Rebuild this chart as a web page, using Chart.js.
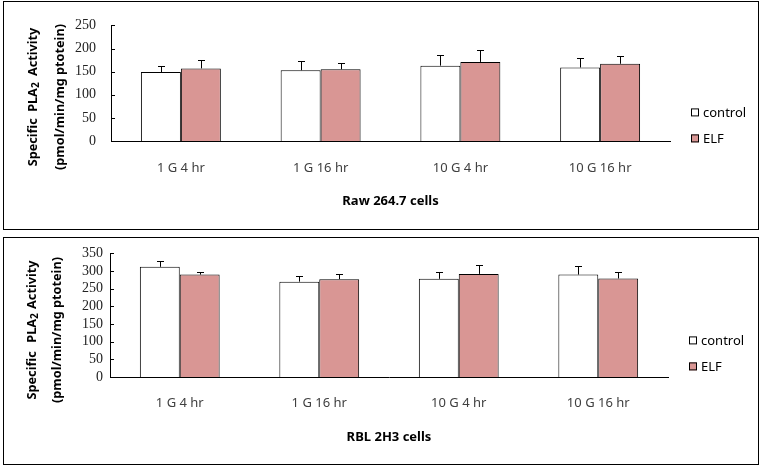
<!DOCTYPE html>
<html>
<head>
<meta charset="utf-8">
<script src="https://cdn.jsdelivr.net/npm/chart.js@4.4.1/dist/chart.umd.min.js"></script>
<style>
  body { margin: 0; background: #fff; }
  .panel { position: absolute; left: 3px; width: 754px; border: 1px solid #000; background: #fff; }
  #p1 { top: 1px; height: 227px; }
  #p2 { top: 237px; height: 226px; }
</style>
</head>
<body>
<div class="panel" id="p1"><canvas id="c1"></canvas></div>
<div class="panel" id="p2"><canvas id="c2"></canvas></div>
<script>
var groups = ['1 G 4 hr', '1 G 16 hr', '10 G 4 hr', '10 G 16 hr'];
var seriesNames = ['control', 'ELF'];

// Raw 264.7 cells
var rawControl = [149, 153, 163, 159];
var rawControlErr = [14, 19, 22, 20];
var rawElf = [157, 155, 171, 167];
var rawElfErr = [19, 14, 25, 17];
var rawTicks = [0, 50, 100, 150, 200, 250];

// RBL 2H3 cells
var rblControl = [312, 270, 278, 290];
var rblControlErr = [17, 15, 20, 23];
var rblElf = [290, 277, 292, 279];
var rblElfErr = [8, 15, 25, 19];
var rblTicks = [0, 50, 100, 150, 200, 250, 300, 350];

var SANS = '"Noto Sans", "Open Sans", sans-serif';

// upward error bars with a small cap
var errorBars = {
  id: 'errorBars',
  afterDatasetsDraw: function(chart){
    var ctx = chart.ctx, y = chart.scales.y;
    ctx.save();
    ctx.strokeStyle = '#000';
    ctx.lineWidth = 1;
    chart.data.datasets.forEach(function(ds, i){
      chart.getDatasetMeta(i).data.forEach(function(bar, j){
        var top = Math.round(y.getPixelForValue(ds.data[j] + ds.errors[j])) + 0.5;
        var x = Math.round(bar.x) + 0.5;
        ctx.beginPath();
        ctx.moveTo(x, bar.y);
        ctx.lineTo(x, top);
        ctx.moveTo(x - 3.5, top);
        ctx.lineTo(x + 3.5, top);
        ctx.stroke();
      });
    });
    ctx.restore();
  }
};

// inward tick marks, y title with subscript, legend on the right
var decorations = {
  id: 'decorations',
  afterDraw: function(chart, args, opts){
    var ctx = chart.ctx, y = chart.scales.y, area = chart.chartArea;
    ctx.save();
    ctx.strokeStyle = '#000';
    ctx.lineWidth = 1;
    y.ticks.forEach(function(t, i){
      var py = Math.round(y.getPixelForTick(i)) + 0.5;
      ctx.beginPath();
      ctx.moveTo(area.left, py);
      ctx.lineTo(area.left + 4, py);
      ctx.stroke();
    });

    // y title
    opts.titleLines.forEach(function(parts, k){
      ctx.save();
      ctx.translate(opts.titleX[k], opts.titleY);
      ctx.rotate(-Math.PI / 2);
      ctx.fillStyle = '#000';
      ctx.textBaseline = 'middle';
      ctx.textAlign = 'left';
      ctx.wordSpacing = opts.wordSpacing[k] + 'px';
      var total = 0;
      parts.forEach(function(p){
        ctx.font = p.sub ? 'bold 10px ' + SANS : 'bold 12.7px ' + SANS;
        total += ctx.measureText(p.t).width;
      });
      var cx = -total / 2;
      parts.forEach(function(p){
        ctx.font = p.sub ? 'bold 10px ' + SANS : 'bold 12.7px ' + SANS;
        ctx.fillText(p.t, cx, p.sub ? 3 : 0);
        cx += ctx.measureText(p.t).width;
      });
      ctx.restore();
    });

    // legend
    ctx.font = '13px ' + SANS;
    ctx.textBaseline = 'middle';
    ctx.textAlign = 'left';
    chart.data.datasets.forEach(function(ds, i){
      var lx = area.right + 21, ly = area.top + 83 + i * 26;
      ctx.fillStyle = ds.backgroundColor;
      ctx.fillRect(lx, ly, 8, 8);
      ctx.strokeStyle = '#000';
      ctx.strokeRect(lx + 0.5, ly + 0.5, 7, 7);
      ctx.fillStyle = '#000';
      ctx.fillText(ds.label, lx + 12, ly + 5);
    });
    ctx.restore();
  }
};

function makeChart(id, control, controlErr, elf, elfErr, ticks, cfg){
  var ctx = document.getElementById(id).getContext('2d');
  return new Chart(ctx, {
    type: 'bar',
    data: {
      labels: groups,
      datasets: [{
        label: seriesNames[0],
        data: control,
        errors: controlErr,
        backgroundColor: '#FFFFFF',
        borderColor: '#000',
        borderWidth: 1,
        categoryPercentage: 0.572,
        barPercentage: 1
      }, {
        label: seriesNames[1],
        data: elf,
        errors: elfErr,
        backgroundColor: '#D99694',
        borderColor: '#000',
        borderWidth: 1,
        categoryPercentage: 0.572,
        barPercentage: 1
      }]
    },
    plugins: [errorBars, decorations],
    options: {
      responsive: true,
      maintainAspectRatio: false,
      animation: false,
      layout: { padding: { left: 0, right: cfg.padRight, top: 14, bottom: 0 } },
      plugins: {
        legend: { display: false },
        tooltip: { enabled: false },
        decorations: {
          titleLines: cfg.titleLines,
          titleX: cfg.titleX,
          titleY: cfg.titleY,
          wordSpacing: cfg.wordSpacing
        }
      },
      scales: {
        x: {
          grid: { display: false, drawTicks: false },
          border: { display: true, color: '#000', width: 1 },
          ticks: { color: '#404040', font: { family: SANS, size: 13 }, padding: cfg.xPad },
          title: {
            display: true,
            text: cfg.xTitle,
            color: '#000',
            font: { family: SANS, size: 13, weight: 'bold' },
            padding: { top: 0, bottom: cfg.xTitlePad }
          },
          afterFit: function(s){ s.height = cfg.xHeight; }
        },
        y: {
          min: ticks[0],
          max: ticks[ticks.length - 1],
          grid: { display: false, drawTicks: false },
          border: { display: true, color: '#000', width: 1 },
          ticks: {
            stepSize: ticks[1] - ticks[0],
            autoSkip: false,
            color: '#222',
            padding: cfg.yPad,
            font: { family: '"Liberation Serif", "Times New Roman", serif', size: 14 }
          },
          afterFit: function(s){ s.width = cfg.yWidth; }
        }
      }
    }
  });
}

makeChart('c1', rawControl, rawControlErr, rawElf, rawElfErr, rawTicks, {
  padRight: 88, yWidth: 107, xHeight: 88, xPad: 19, xTitlePad: 20, yPad: 15,
  xTitle: 'Raw 264.7 cells',
  titleLines: [
    [{ t: 'Specific PLA' }, { t: '2', sub: true }, { t: ' Activity' }],
    [{ t: '(pmol/min/mg ptotein)' }]
  ],
  titleX: [29, 56], titleY: 95, wordSpacing: [3, 0]
});

makeChart('c2', rblControl, rblControlErr, rblElf, rblElfErr, rblTicks, {
  padRight: 90, yWidth: 106, xHeight: 87, xPad: 18, xTitlePad: 19, yPad: 7,
  xTitle: 'RBL 2H3 cells',
  titleLines: [
    [{ t: 'Specific  PLA' }, { t: '2', sub: true }, { t: ' Activity' }],
    [{ t: '(pmol/min/mg ptotein)' }]
  ],
  titleX: [28, 53], titleY: 92, wordSpacing: [1, 0]
});
</script>
</body>
</html>
